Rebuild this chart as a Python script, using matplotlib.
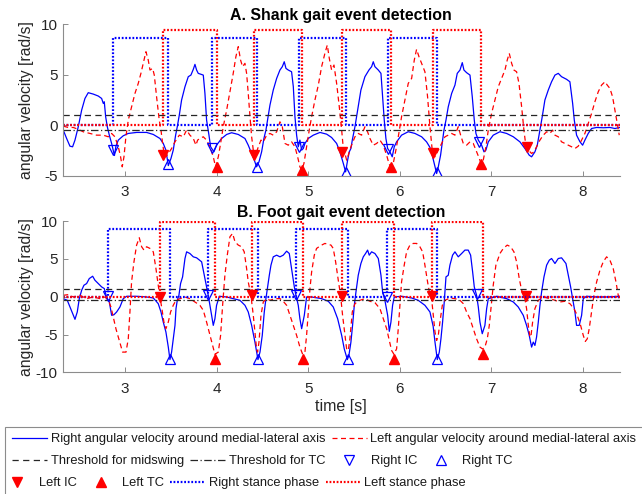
import matplotlib
matplotlib.use('Agg')
import matplotlib.pyplot as plt
from matplotlib.patches import Rectangle

plt.rcParams['font.family'] = ['Liberation Sans', 'DejaVu Sans']
plt.rcParams['axes.unicode_minus'] = False

T_START, T_END = 2.323, 8.40

# ---- shank angular velocity (rad/s) ----
shank_t_r = [2.326, 2.363, 2.399, 2.428, 2.454, 2.490, 2.527, 2.563, 2.599, 2.654, 2.708, 2.745, 2.763, 2.774,
             2.789, 2.807, 2.829, 2.854, 2.885, 2.901, 2.927, 2.981, 3.036, 3.127, 3.236, 3.309, 3.382, 3.418,
             3.447, 3.473, 3.502, 3.527, 3.553, 3.571, 3.593, 3.618, 3.655, 3.691, 3.720, 3.746, 3.764, 3.782,
             3.800, 3.855, 3.873, 3.891, 3.917, 3.935, 3.971, 4.000, 4.055, 4.110, 4.164, 4.237, 4.310, 4.346,
             4.383, 4.412, 4.437, 4.463, 4.492, 4.517, 4.539, 4.557, 4.583, 4.619, 4.656, 4.692, 4.718, 4.739,
             4.758, 4.783, 4.819, 4.838, 4.856, 4.874, 4.892, 4.910, 4.929, 4.947, 4.965, 5.001, 5.056, 5.129,
             5.202, 5.256, 5.311, 5.347, 5.384, 5.409, 5.431, 5.449, 5.467, 5.482, 5.511, 5.540, 5.576, 5.620,
             5.664, 5.693, 5.711, 5.729, 5.766, 5.795, 5.813, 5.831, 5.849, 5.868, 5.893, 5.918, 5.940, 5.966,
             6.020, 6.093, 6.166, 6.239, 6.293, 6.330, 6.359, 6.385, 6.403, 6.421, 6.446, 6.468, 6.483, 6.505,
             6.530, 6.567, 6.603, 6.628, 6.658, 6.683, 6.701, 6.730, 6.767, 6.792, 6.814, 6.832, 6.858, 6.894,
             6.920, 6.941, 6.967, 7.021, 7.094, 7.167, 7.240, 7.312, 7.367, 7.414, 7.440, 7.476, 7.502, 7.531,
             7.556, 7.585, 7.622, 7.658, 7.695, 7.731, 7.767, 7.822, 7.858, 7.888, 7.906, 7.931, 7.968, 7.997,
             8.022, 8.058, 8.095, 8.150, 8.222, 8.295, 8.350, 8.404]
shank_w_r = [-0.49, -1.32, -2.08, -2.14, -1.48, -0.16, 1.49, 2.64, 3.21, 3.07, 2.88, 2.64, 2.15, 2.31,
             0.83, -0.16, -0.99, -1.81, -3.00, -2.08, -1.48, -1.05, -0.82, -0.72, -0.72, -0.92, -1.32, -1.81,
             -2.47, -4.00, -3.30, -2.47, -0.99, -0.16, 0.99, 2.48, 3.80, 4.79, 4.95, 5.52, 6.01, 5.45,
             5.12, 4.95, 3.14, 0.50, -0.99, -2.14, -2.64, -1.98, -1.32, -0.92, -0.75, -0.92, -1.32, -1.98,
             -2.80, -3.46, -4.12, -3.63, -2.64, -1.32, -0.49, 0.50, 1.98, 3.47, 4.62, 5.45, 5.78, 6.27,
             5.61, 5.45, 5.28, 3.80, 0.83, -0.99, -2.14, -1.48, -2.47, -2.31, -1.81, -1.32, -0.99, -0.72,
             -0.89, -1.22, -1.81, -2.64, -3.79, -4.62, -3.46, -2.64, -2.31, -1.48, -0.16, 1.49, 3.47, 4.79,
             5.45, 5.78, 6.27, 5.78, 5.45, 5.12, 2.81, 0.50, -1.32, -2.31, -2.64, -3.13, -2.14, -1.65,
             -0.99, -0.65, -0.82, -1.15, -1.65, -2.20, -3.13, -4.12, -4.78, -4.12, -2.97, -1.48, -0.49, 0.50,
             1.82, 3.14, 3.96, 5.12, 5.45, 6.18, 5.45, 5.19, 4.95, 2.81, 0.50, -0.82, -1.48, -1.98,
             -2.64, -2.47, -1.65, -0.99, -0.65, -0.82, -1.15, -1.65, -2.31, -2.97, -3.13, -2.64, -1.98, -0.49,
             0.83, 2.48, 3.47, 4.29, 4.95, 5.12, 4.79, 4.53, 4.29, 2.15, 0.50, -0.99, -1.65, -1.98,
             -1.48, -0.82, -0.33, -0.23, -0.26, -0.23, -0.33, -0.23]

shank_t_l = [2.326, 2.381, 2.436, 2.490, 2.545, 2.618, 2.690, 2.763, 2.818, 2.854, 2.890, 2.927, 2.952, 2.970,
             2.989, 3.010, 3.036, 3.072, 3.109, 3.145, 3.174, 3.200, 3.229, 3.254, 3.273, 3.302, 3.320, 3.345,
             3.374, 3.393, 3.411, 3.429, 3.447, 3.473, 3.509, 3.546, 3.593, 3.637, 3.673, 3.709, 3.746, 3.775,
             3.793, 3.818, 3.855, 3.891, 3.928, 3.964, 3.989, 4.019, 4.044, 4.073, 4.110, 4.146, 4.182, 4.211,
             4.237, 4.262, 4.284, 4.310, 4.328, 4.346, 4.365, 4.383, 4.401, 4.419, 4.437, 4.456, 4.485, 4.510,
             4.547, 4.583, 4.619, 4.656, 4.692, 4.718, 4.747, 4.783, 4.819, 4.856, 4.885, 4.910, 4.929, 4.954,
             4.983, 5.012, 5.038, 5.074, 5.111, 5.147, 5.183, 5.209, 5.231, 5.256, 5.282, 5.311, 5.340, 5.366,
             5.384, 5.402, 5.420, 5.438, 5.467, 5.511, 5.547, 5.584, 5.620, 5.649, 5.675, 5.711, 5.748, 5.784,
             5.820, 5.857, 5.882, 5.900, 5.929, 5.958, 5.984, 6.020, 6.057, 6.093, 6.130, 6.159, 6.184, 6.210,
             6.239, 6.275, 6.304, 6.330, 6.355, 6.385, 6.421, 6.457, 6.494, 6.530, 6.567, 6.603, 6.639, 6.665,
             6.694, 6.730, 6.767, 6.803, 6.840, 6.869, 6.887, 6.912, 6.941, 6.967, 7.003, 7.040, 7.076, 7.112,
             7.149, 7.174, 7.196, 7.222, 7.247, 7.276, 7.302, 7.331, 7.356, 7.374, 7.404, 7.440, 7.466, 7.494,
             7.531, 7.567, 7.604, 7.640, 7.669, 7.695, 7.731, 7.767, 7.804, 7.840, 7.877, 7.913, 7.949, 7.986,
             8.022, 8.058, 8.095, 8.131, 8.168, 8.204, 8.241, 8.266, 8.295, 8.324, 8.350, 8.375, 8.397]
shank_w_l = [-0.10, -0.23, -0.23, -0.42, -0.66, -0.82, -0.99, -0.99, -1.15, -0.82, -1.15, -2.14, -3.13, -4.12,
             -3.13, -1.15, 0.50, 1.82, 3.14, 4.13, 5.12, 6.11, 7.26, 6.44, 5.45, 5.61, 4.95, 2.81,
             0.50, -0.49, -1.81, -2.97, -3.13, -2.80, -2.31, -1.65, -0.99, -1.15, -0.49, -0.99, -1.32, -1.98,
             -1.48, -1.32, -1.15, -1.48, -2.14, -3.13, -4.12, -3.13, -1.81, -0.16, 1.49, 3.31, 5.12, 6.77,
             7.76, 6.44, 5.78, 6.11, 5.12, 3.14, 0.83, -1.15, -2.47, -3.13, -2.64, -2.14, -1.48, -1.65,
             -0.99, -0.82, -0.99, -0.66, 0.33, -0.16, -1.81, -1.98, -1.65, -2.14, -3.13, -4.12, -4.45, -3.79,
             -2.14, -0.49, 0.83, 2.48, 3.96, 5.78, 7.10, 7.92, 6.60, 5.45, 5.94, 4.13, 1.82, -0.49,
             -2.31, -2.80, -3.46, -2.97, -2.14, -1.15, -0.82, -0.99, -0.16, -0.66, -1.32, -1.98, -1.81, -1.48,
             -1.98, -2.97, -3.79, -4.12, -3.79, -2.47, -1.15, 0.83, 2.48, 4.13, 4.62, 6.44, 7.50, 6.77,
             6.11, 5.28, 2.81, -0.16, -2.50, -3.13, -2.47, -1.81, -1.15, -0.99, -0.82, -0.99, -0.16, -0.99,
             -1.81, -1.98, -1.65, -1.81, -2.64, -3.30, -3.79, -3.46, -2.14, -0.49, 1.16, 2.48, 3.80, 4.62,
             5.45, 6.44, 7.10, 6.11, 5.45, 5.28, 4.13, 1.82, -0.49, -1.81, -2.47, -2.80, -2.64, -2.14,
             -1.48, -0.99, -0.66, -0.82, -0.49, -0.99, -1.15, -1.65, -1.81, -1.98, -2.14, -2.31, -2.08, -1.48,
             -0.82, 0.17, 1.16, 2.31, 3.31, 3.96, 4.29, 3.96, 3.63, 2.81, 1.49, 0.17, -0.99]

# ---- foot angular velocity (rad/s) ----
foot_t_r = [2.326, 2.370, 2.399, 2.428, 2.454, 2.479, 2.501, 2.527, 2.552, 2.581, 2.610, 2.647, 2.672, 2.708,
            2.745, 2.774, 2.799, 2.829, 2.854, 2.880, 2.909, 2.945, 2.981, 3.018, 3.127, 3.236, 3.309, 3.363,
            3.393, 3.418, 3.447, 3.473, 3.491, 3.509, 3.527, 3.546, 3.557, 3.571, 3.589, 3.607, 3.629, 3.655,
            3.673, 3.709, 3.746, 3.782, 3.837, 3.866, 3.891, 3.909, 3.928, 3.946, 3.964, 3.982, 4.000, 4.030,
            4.110, 4.182, 4.255, 4.310, 4.346, 4.383, 4.419, 4.452, 4.474, 4.499, 4.521, 4.539, 4.557, 4.576,
            4.594, 4.619, 4.656, 4.692, 4.728, 4.765, 4.794, 4.819, 4.849, 4.867, 4.892, 4.910, 4.929, 4.958,
            4.983, 5.038, 5.147, 5.220, 5.274, 5.322, 5.366, 5.394, 5.428, 5.445, 5.467, 5.485, 5.504, 5.522,
            5.547, 5.576, 5.602, 5.627, 5.649, 5.667, 5.693, 5.729, 5.766, 5.795, 5.813, 5.838, 5.868, 5.886,
            5.904, 5.922, 5.940, 6.020, 6.130, 6.202, 6.275, 6.330, 6.365, 6.385, 6.410, 6.432, 6.450, 6.468,
            6.486, 6.505, 6.530, 6.548, 6.577, 6.603, 6.639, 6.676, 6.712, 6.748, 6.774, 6.796, 6.814, 6.839,
            6.858, 6.876, 6.901, 6.930, 6.949, 6.967, 7.058, 7.167, 7.240, 7.294, 7.349, 7.385, 7.414, 7.440,
            7.458, 7.476, 7.494, 7.513, 7.531, 7.549, 7.575, 7.604, 7.633, 7.658, 7.695, 7.731, 7.767, 7.815,
            7.840, 7.866, 7.888, 7.913, 7.931, 7.960, 7.986, 8.004, 8.040, 8.150, 8.259, 8.404]
foot_w_r = [-0.25, -0.47, -1.35, -2.23, -2.98, -2.01, -0.25, 0.86, 1.52, 1.74, 2.40, 2.71, 2.18, 1.74,
            1.30, 1.08, -0.03, -0.69, -2.45, -2.37, -2.01, -1.35, -0.25, 0.06, 0.06, -0.03, -0.16, -0.91,
            -2.01, -3.34, -4.66, -6.65, -8.30, -7.31, -5.55, -3.78, -1.57, -0.47, 0.19, 1.74, 2.62, 5.05,
            5.93, 5.71, 5.27, 5.14, 4.61, 2.84, 1.30, 0.19, -1.13, -2.45, -3.78, -2.90, -1.13, 0.06,
            -0.03, -0.25, -0.47, -1.13, -2.01, -3.78, -5.99, -8.30, -7.31, -5.10, -2.01, -0.25, 1.30, 2.84,
            4.17, 5.27, 5.49, 5.27, 5.49, 6.02, 5.71, 3.73, 1.30, 0.19, -1.13, -2.90, -4.22, -2.45,
            -0.03, -0.03, -0.25, -0.60, -1.35, -2.90, -5.10, -6.87, -8.30, -7.75, -5.99, -3.78, -1.13, 0.63,
            2.84, 4.39, 5.27, 5.71, 6.16, 5.49, 5.93, 5.71, 5.05, 2.84, 0.63, -0.47, -2.45, -4.57,
            -3.34, -1.13, -0.03, 0.06, -0.16, -0.47, -1.13, -2.01, -3.90, -5.99, -8.30, -7.31, -5.55, -3.34,
            -0.69, 2.62, 2.84, 4.17, 5.49, 5.93, 5.27, 5.71, 6.16, 6.16, 5.49, 3.28, 1.30, 0.19,
            -1.35, -3.34, -4.88, -3.78, -1.57, -0.25, 0.06, -0.25, -0.69, -1.35, -2.45, -3.78, -5.10, -6.65,
            -5.99, -6.43, -5.33, -3.34, -1.13, 0.63, 2.62, 4.17, 4.83, 5.05, 4.39, 5.05, 5.14, 4.39,
            2.84, 1.30, -0.25, -2.01, -3.78, -3.78, -2.45, -0.25, 0.06, -0.03, -0.03, 0.06]

foot_t_l = [2.326, 2.381, 2.436, 2.508, 2.581, 2.654, 2.727, 2.781, 2.818, 2.847, 2.872, 2.901, 2.938, 2.974,
            3.011, 3.036, 3.054, 3.072, 3.098, 3.127, 3.156, 3.182, 3.207, 3.236, 3.273, 3.309, 3.338, 3.363,
            3.382, 3.403, 3.425, 3.447, 3.473, 3.498, 3.527, 3.557, 3.600, 3.655, 3.709, 3.764, 3.818, 3.855,
            3.891, 3.928, 3.957, 3.982, 4.019, 4.044, 4.066, 4.091, 4.117, 4.146, 4.175, 4.201, 4.237, 4.273,
            4.302, 4.328, 4.346, 4.375, 4.401, 4.419, 4.437, 4.448, 4.463, 4.485, 4.510, 4.547, 4.583, 4.638,
            4.692, 4.728, 4.765, 4.801, 4.838, 4.874, 4.910, 4.940, 4.965, 4.983, 5.001, 5.020, 5.038, 5.067,
            5.092, 5.118, 5.147, 5.183, 5.220, 5.249, 5.274, 5.300, 5.329, 5.354, 5.376, 5.402, 5.420, 5.438,
            5.456, 5.482, 5.511, 5.565, 5.620, 5.675, 5.729, 5.784, 5.820, 5.857, 5.886, 5.911, 5.937, 5.966,
            5.984, 6.002, 6.020, 6.049, 6.075, 6.111, 6.148, 6.184, 6.220, 6.250, 6.275, 6.304, 6.330, 6.348,
            6.366, 6.385, 6.403, 6.421, 6.439, 6.465, 6.494, 6.548, 6.603, 6.658, 6.694, 6.730, 6.767, 6.803,
            6.839, 6.876, 6.905, 6.930, 6.956, 6.978, 6.996, 7.021, 7.050, 7.094, 7.131, 7.174, 7.211, 7.247,
            7.276, 7.305, 7.331, 7.360, 7.385, 7.404, 7.422, 7.433, 7.451, 7.476, 7.513, 7.567, 7.640, 7.695,
            7.749, 7.804, 7.858, 7.902, 7.938, 7.975, 8.004, 8.026, 8.048, 8.069, 8.095, 8.120, 8.150, 8.186,
            8.222, 8.259, 8.295, 8.331, 8.361, 8.386, 8.404]
foot_w_l = [0.19, 0.28, -0.03, 0.19, -0.25, -0.03, -0.25, -0.03, -0.47, -1.35, -2.67, -4.22, -5.77, -7.31,
            -7.31, -5.55, -2.01, 1.96, 4.61, 6.82, 7.79, 6.60, 6.16, 6.60, 6.38, 5.93, 3.73, 1.52,
            -0.03, -1.57, -3.34, -4.22, -3.34, -2.01, -1.13, -0.47, -0.25, -0.03, -0.25, -0.69, -1.13, -1.79,
            -3.34, -5.10, -6.43, -7.60, -7.31, -5.10, -1.13, 2.84, 5.49, 7.92, 8.36, 7.26, 6.82, 6.60,
            5.93, 3.73, 1.96, 0.19, -2.45, -4.66, -6.87, -7.31, -5.99, -2.45, -0.69, -0.25, -0.47, -0.25,
            -0.25, -0.60, -1.13, -2.45, -3.78, -5.10, -6.65, -7.60, -7.31, -5.10, -2.01, 1.08, 3.28, 5.49,
            6.38, 6.60, 6.82, 7.04, 6.91, 6.82, 6.38, 4.61, 2.18, 0.19, -2.45, -5.10, -6.87, -7.09,
            -5.55, -2.01, -0.91, -0.47, -0.25, -0.60, -0.78, -1.57, -2.90, -4.22, -5.77, -7.09, -7.60, -6.87,
            -4.22, -1.13, 1.96, 4.17, 5.93, 6.82, 7.04, 7.04, 6.60, 5.93, 4.17, 1.96, 0.19, -0.25,
            -2.45, -4.66, -5.77, -5.10, -3.34, -1.13, -0.47, -0.16, -0.25, -0.47, -0.91, -2.01, -2.90, -4.22,
            -5.55, -6.65, -6.90, -6.65, -5.55, -3.78, -1.57, 1.52, 4.17, 5.71, 6.38, 6.82, 6.60, 5.93,
            4.61, 2.40, 0.86, 0.19, -1.57, -3.78, -5.33, -5.20, -3.34, -1.57, -0.47, -0.03, -0.25, -0.47,
            -0.69, -0.60, -0.91, -1.57, -2.45, -3.78, -5.10, -5.90, -5.55, -4.22, -2.01, 0.19, 1.96, 3.50,
            4.61, 5.27, 4.83, 3.73, 1.96, 0.19, -0.60]

# ---- detected gait events: (time s, angular velocity rad/s) ----
shank_ric_t = [2.872, 3.946, 4.900, 5.875, 6.869]
shank_ric_w = [-2.50, -2.24, -2.20, -2.35, -1.65]
shank_rtc_t = [3.473, 4.437, 5.409, 6.403]
shank_rtc_w = [-3.85, -4.12, -4.62, -4.62]
shank_lic_t = [3.418, 4.408, 5.373, 6.359, 7.385]
shank_lic_w = [-2.97, -2.97, -2.64, -2.80, -2.14]
shank_ltc_t = [4.000, 4.929, 5.900, 6.887]
shank_ltc_w = [-4.12, -4.45, -4.12, -3.86]

foot_ric_t = [2.818, 3.909, 4.867, 5.857, 6.839]
foot_ric_w = [0.06, 0.19, 0.19, 0.00, 0.30]
foot_rtc_t = [3.491, 4.456, 5.431, 6.410]
foot_rtc_w = [-8.19, -8.19, -8.19, -8.28]
foot_lic_t = [3.382, 4.390, 5.366, 6.348, 7.374]
foot_lic_w = [-0.03, 0.19, 0.06, 0.06, 0.06]
foot_ltc_t = [3.982, 4.947, 5.937, 6.912]
foot_ltc_w = [-8.19, -8.19, -8.19, -7.53]

# thresholds and stance-phase indicator heights
thr_midswing = 1.0
thr_tc = -0.45
shank_stance_level = (8.6, 9.45)   # right, left
foot_stance_level = (9.0, 9.9)

legend_labels = ['Right angular velocity around medial-lateral axis',
                 'Left angular velocity around medial-lateral axis',
                 'Threshold for midswing', 'Threshold for TC', 'Right IC', 'Right TC',
                 'Left IC', 'Left TC', 'Right stance phase', 'Left stance phase']


def stance_curve(ic, tc, level):
    # square wave: high between each IC and the following TC
    xs, ys = [T_START], [0]
    for a, b in zip(ic, tc):
        xs += [a, a, b, b]
        ys += [0, level, level, 0]
    xs.append(T_END)
    ys.append(0)
    return xs, ys


def panel(ax, tr, wr, tl, wl, ric, rtc, lic, ltc, levels, title, ylim, yticks):
    h = []
    h += ax.plot(tr, wr, color='b', lw=0.9)
    h += ax.plot(tl, wl, color='r', lw=0.9, ls=(0, (4, 2.8)))
    h += ax.plot([T_START, T_END], [thr_midswing] * 2, color='0.15', lw=0.9, ls=(0, (5, 3.5)))
    h += ax.plot([T_START, T_END], [thr_tc] * 2, color='0.15', lw=0.9, ls=(0, (6, 2, 1, 2)))
    h += ax.plot(ric[0], ric[1], 'v', ms=7.5, mfc='none', mec='b', mew=0.9)
    h += ax.plot(rtc[0], rtc[1], '^', ms=7.5, mfc='none', mec='b', mew=0.9)
    h += ax.plot(lic[0], lic[1], 'v', ms=7.5, color='r')
    h += ax.plot(ltc[0], ltc[1], '^', ms=7.5, color='r')
    xs, ys = stance_curve(ric[0], rtc[0], levels[0])
    h += ax.plot(xs, ys, color='b', lw=1.6, ls=(0, (0.8, 0.8)))
    xs, ys = stance_curve(lic[0], ltc[0], levels[1])
    h += ax.plot(xs, ys, color='r', lw=1.6, ls=(0, (0.8, 0.8)))

    ax.set_xlim(T_START, T_END)
    ax.set_ylim(*ylim)
    ax.set_yticks(yticks)
    ax.set_xticks([3, 4, 5, 6, 7, 8])
    ax.set_title(title, fontsize=11.4, fontweight='bold', pad=3)
    ax.set_ylabel('angular velocity [rad/s]', fontsize=11.3, color='0.15')
    ax.yaxis.set_label_coords(-0.052, 0.5)
    for s in ['top', 'right']:
        ax.spines[s].set_visible(False)
    for s in ['left', 'bottom']:
        ax.spines[s].set_color('0.55')
        ax.spines[s].set_linewidth(0.8)
    ax.tick_params(direction='in', length=3.5, width=0.7, color='0.55',
                   labelsize=11, labelcolor='0.15')
    ax.tick_params(axis='x', pad=7)
    ax.tick_params(axis='y', pad=4)
    return h


fig = plt.figure(figsize=(6.42, 4.94), dpi=100)
ax1 = fig.add_axes([0.0981, 0.6443, 0.8669, 0.3071])
ax2 = fig.add_axes([0.0981, 0.2460, 0.8669, 0.3066])

handles = panel(ax1, shank_t_r, shank_w_r, shank_t_l, shank_w_l,
                (shank_ric_t, shank_ric_w), (shank_rtc_t, shank_rtc_w),
                (shank_lic_t, shank_lic_w), (shank_ltc_t, shank_ltc_w),
                shank_stance_level, 'A. Shank gait event detection', (-5, 10), [-5, 0, 5, 10])
panel(ax2, foot_t_r, foot_w_r, foot_t_l, foot_w_l,
      (foot_ric_t, foot_ric_w), (foot_rtc_t, foot_rtc_w),
      (foot_lic_t, foot_lic_w), (foot_ltc_t, foot_ltc_w),
      foot_stance_level, 'B. Foot gait event detection', (-10, 10), [-10, -5, 0, 5, 10])
ax2.set_xlabel('time [s]', fontsize=11.5, color='0.15', labelpad=2)

# legend box spanning the bottom of the figure, filled row by row
fig.add_artist(Rectangle((5 / 642, -0.05), 1.0, 0.1356 + 0.05, transform=fig.transFigure,
                         fill=False, ec='0.55', lw=0.8))
rows = [(slice(0, 2), 12 / 642, 1 - 439 / 494),
        (slice(2, 6), 12 / 642, 1 - 461 / 494),
        (slice(6, 10), 0 / 642, 1 - 483 / 494)]
for sl, x, y in rows:
    fig.legend(handles[sl], legend_labels[sl], loc='center left', bbox_to_anchor=(x, y),
               ncol=len(handles[sl]), frameon=False, fontsize=9.3, handlelength=2.7,
               handletextpad=0.3, columnspacing=0.5, borderpad=0, borderaxespad=0,
               labelcolor='0.1')

fig.savefig('out.png', dpi=100)
